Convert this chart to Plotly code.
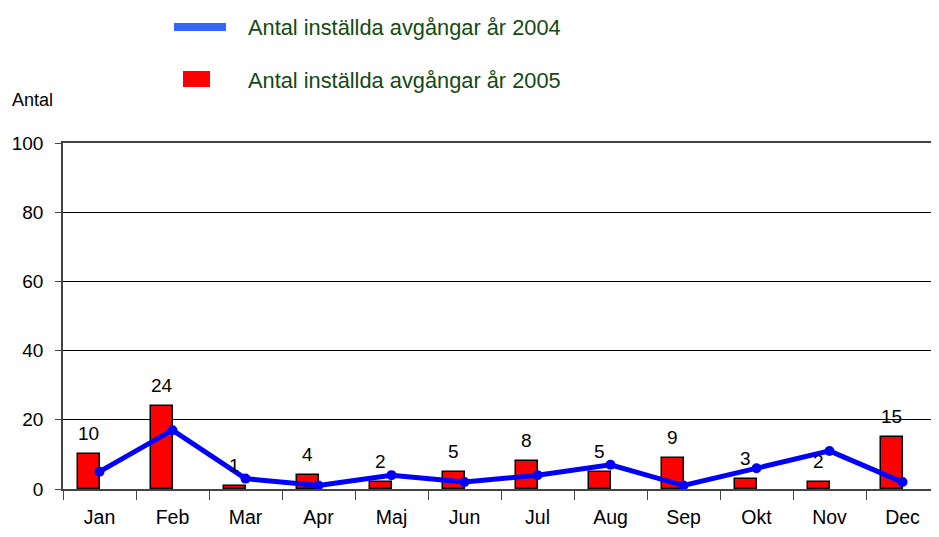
import plotly.graph_objects as go

months = ["Jan", "Feb", "Mar", "Apr", "Maj", "Jun", "Jul", "Aug", "Sep", "Okt", "Nov", "Dec"]
values_2004 = [5, 17, 3, 1, 4, 2, 4, 7, 1, 6, 11, 2]
values_2005 = [10, 24, 1, 4, 2, 5, 8, 5, 9, 3, 2, 15]
name_2004 = "Antal inställda avgångar år 2004"
name_2005 = "Antal inställda avgångar år 2005"
y_title = "Antal"
y_ticks = [0, 20, 40, 60, 80, 100]

FONT = "Liberation Sans, Arial, sans-serif"
BAR_W = 0.29

# page body has an 8px default margin; figure is sized to fit the window
OFF = 8
W, H = 939 - OFF, 537 - OFF
ML, MR, MT, MB = 63 - OFF, 0, 143 - OFF, 48
pw, ph = W - ML - MR, H - MT - MB


def px(sx):
    return (sx - OFF - ML) / pw


def py(sy):
    return (H - MB - (sy - OFF)) / ph


fig = go.Figure()
fig.add_trace(go.Bar(
    x=months, y=values_2005, name=name_2005,
    width=BAR_W, offset=-BAR_W,
    marker=dict(color="#ff0000", line=dict(color="#000000", width=1.5)),
    showlegend=False,
))
fig.add_trace(go.Scatter(
    x=months, y=values_2004, name=name_2004, mode="lines+markers",
    line=dict(color="#0000ff", width=5),
    marker=dict(color="#0000ff", size=10),
    showlegend=False,
))

annotations = []
for i, v in enumerate(values_2005):
    annotations.append(dict(
        x=i - BAR_W / 2, y=v, xref="x", yref="y", text=str(v),
        showarrow=False, yanchor="bottom", yshift=8,
        font=dict(family=FONT, size=19, color="#000000"),
    ))

annotations.append(dict(
    x=px(246), y=py(27), xref="paper", yref="paper", text=name_2004, showarrow=False,
    xanchor="left", yanchor="middle", font=dict(family=FONT, size=21.8, color="#124a12"),
))
annotations.append(dict(
    x=px(246), y=py(80), xref="paper", yref="paper", text=name_2005, showarrow=False,
    xanchor="left", yanchor="middle", font=dict(family=FONT, size=21.8, color="#124a12"),
))
annotations.append(dict(
    x=px(10), y=py(100), xref="paper", yref="paper", text=y_title, showarrow=False,
    xanchor="left", yanchor="middle", font=dict(family=FONT, size=18, color="#000000"),
))

shapes = [
    dict(type="rect", xref="paper", yref="paper", x0=px(174), x1=px(226), y0=py(31), y1=py(23),
         fillcolor="#3366ff", line=dict(width=0)),
    dict(type="rect", xref="paper", yref="paper", x0=px(183), x1=px(210), y0=py(87), y1=py(71),
         fillcolor="#ff0000", line=dict(width=0)),
]

fig.update_layout(
    width=W, height=H,
    margin=dict(l=ML, r=MR, t=MT, b=MB, pad=0),
    paper_bgcolor="white", plot_bgcolor="white",
    font=dict(family=FONT, size=19, color="#000000"),
    bargap=0,
    annotations=annotations,
    shapes=shapes,
    xaxis=dict(
        type="category", range=[-0.5, 11.5],
        showline=True, linecolor="#444444", linewidth=1.5, mirror=True,
        ticks="outside", ticklen=9, tickcolor="#444444", tickson="boundaries",
        ticklabelstandoff=10,
        showgrid=False, zeroline=False,
        tickfont=dict(family=FONT, size=19.5),
    ),
    yaxis=dict(
        range=[0, 100], tickvals=y_ticks, ticktext=[str(t) for t in y_ticks],
        showline=True, linecolor="#444444", linewidth=1.5,
        ticks="outside", ticklen=6, tickcolor="#444444",
        ticklabelstandoff=8,
        showgrid=True, gridcolor="#000000", gridwidth=1,
        zeroline=False,
        tickfont=dict(family=FONT, size=19),
    ),
)

fig.write_html("out.html")
